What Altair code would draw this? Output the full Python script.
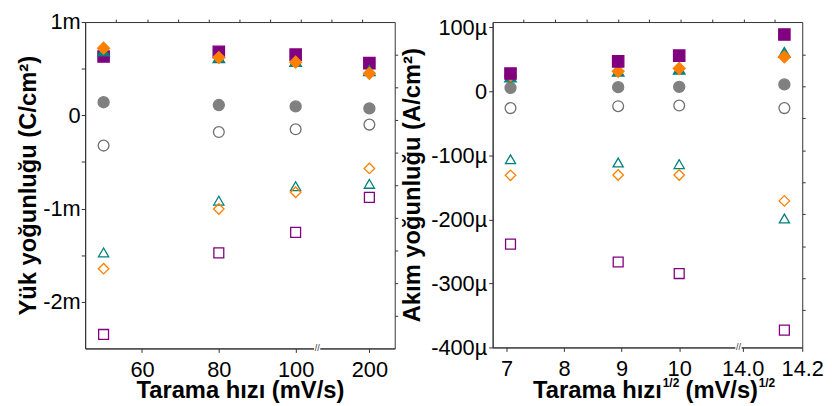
import altair as alt
import pandas as pd

FONT = "Liberation Sans"

# ---- series definitions ----
series = ["kare_acik", "ucgen_acik", "elmas_acik", "daire_acik",
          "daire_dolu", "kare_dolu", "ucgen_dolu", "elmas_dolu"]
shapes = ["square", "triangle-up", "diamond", "circle",
          "circle", "square", "triangle-up", "diamond"]
strokes = ["#800080", "#008080", "#FF8000", "#6E6E6E",
           "#808080", "#800080", "#008080", "#FF8000"]
fills = ["transparent", "transparent", "transparent", "transparent",
         "#808080", "#800080", "#008080", "#FF8000"]
sizes = [100, 144, 160, 100, 110, 100, 144, 160]

# ---- left panel: charge density (mC/cm2) vs scan rate (mV/s) ----
left_x = [50, 80, 100, 200]
left_kare_dolu = [0.63, 0.68, 0.65, 0.56]
left_ucgen_dolu = [0.69, 0.62, 0.58, 0.48]
left_elmas_dolu = [0.72, 0.62, 0.57, 0.45]
left_daire_dolu = [0.14, 0.11, 0.095, 0.074]
left_daire_acik = [-0.325, -0.18, -0.15, -0.10]
left_ucgen_acik = [-1.47, -0.915, -0.76, -0.735]
left_elmas_acik = [-1.645, -1.005, -0.825, -0.57]
left_kare_acik = [-2.35, -1.475, -1.255, -0.88]
left_ticks_x = [60, 80, 100, 200]

# ---- right panel: current density (uA/cm2) vs sqrt(scan rate) ----
right_x = [7.07, 8.94, 10.0, 14.14]
right_kare_dolu = [28, 47, 56, 89]
right_ucgen_dolu = [23, 32, 35, 61]
right_elmas_dolu = [25, 31.5, 36, 54]
right_daire_dolu = [5.7, 6.7, 7.2, 11]
right_daire_acik = [-26, -23, -22, -26]
right_ucgen_acik = [-106, -111, -113.5, -198.5]
right_elmas_acik = [-131, -130.5, -130.5, -171]
right_kare_acik = [-238.5, -266.5, -284.5, -373]
right_ticks_x = [7, 8, 9, 10, 14.0, 14.2]

left_vals = {"kare_dolu": left_kare_dolu, "ucgen_dolu": left_ucgen_dolu,
             "elmas_dolu": left_elmas_dolu, "daire_dolu": left_daire_dolu,
             "daire_acik": left_daire_acik, "ucgen_acik": left_ucgen_acik,
             "elmas_acik": left_elmas_acik, "kare_acik": left_kare_acik}
right_vals = {"kare_dolu": right_kare_dolu, "ucgen_dolu": right_ucgen_dolu,
              "elmas_dolu": right_elmas_dolu, "daire_dolu": right_daire_dolu,
              "daire_acik": right_daire_acik, "ucgen_acik": right_ucgen_acik,
              "elmas_acik": right_elmas_acik, "kare_acik": right_kare_acik}

left_order = ["kare_acik", "ucgen_acik", "elmas_acik", "daire_acik",
              "daire_dolu", "kare_dolu", "ucgen_dolu", "elmas_dolu"]
right_order = ["kare_acik", "ucgen_acik", "elmas_acik", "daire_acik",
               "daire_dolu", "ucgen_dolu", "elmas_dolu", "kare_dolu"]


def build(xs, vals, order):
    rows = []
    for s in order:
        for xv, yv in zip(xs, vals[s]):
            rows.append({"series": s, "x": xv, "y": yv})
    return pd.DataFrame(rows)


def enc_style():
    return dict(
        shape=alt.Shape("series:N", scale=alt.Scale(domain=series, range=shapes), legend=None),
        stroke=alt.Stroke("series:N", scale=alt.Scale(domain=series, range=strokes), legend=None),
        fill=alt.Fill("series:N", scale=alt.Scale(domain=series, range=fills), legend=None),
        size=alt.Size("series:N", scale=alt.Scale(domain=series, range=sizes), legend=None),
    )


W = 313
HL = 330
HR = 329
TFS = 24

# ---------- LEFT ----------
l_expr = "datum.x <= 100 ? datum.x : 119.2 + (datum.x - 200) * 0.05"
l_dom = [45.2, 125.8]
l_tick_pos = [60, 80, 100, 119.2]
base_l = alt.Chart(build(left_x, left_vals, left_order)).transform_calculate(xp=l_expr)
pts_l = base_l.mark_point(opacity=1, strokeWidth=1.3).encode(
    x=alt.X("xp:Q", scale=alt.Scale(domain=l_dom, nice=False, zero=False),
            axis=alt.Axis(values=l_tick_pos,
                          labelExpr="datum.value > 110 ? '200' : datum.label",
                          title="Tarama hızı (mV/s)", tickSize=4, labelPadding=7,
                          titlePadding=-1, labelFlush=False, labelOverlap=False)),
    y=alt.Y("y:Q", scale=alt.Scale(domain=[-2.5, 1.0], nice=False, zero=False),
            axis=alt.Axis(values=[-2, -1.5, -1, -0.5, 0, 0.5, 1],
                          labelExpr="datum.value % 1 != 0 ? '' : (datum.value == 0 ? '0' : datum.value + 'm')",
                          title="Yük yoğunluğu (C/cm²)", tickSize=4, labelPadding=1,
                          titlePadding=2, labelOverlap=False)),
    **enc_style()
)
mirror_l = base_l.mark_point(opacity=0).encode(
    x=alt.X("xp:Q", axis=alt.Axis(orient="top", values=[53.3 + 8 * k for k in range(9)],
                                  labels=False, title=None, tickSize=3, domain=False)),
    y=alt.Y("y:Q", axis=alt.Axis(orient="right",
                                 values=[0.65, 0.30, -0.05, -0.40, -0.75, -1.10, -1.45, -1.80, -2.15],
                                 labels=False, title=None, tickSize=3, domain=False)),
)
brk_l_df = pd.DataFrame({"bx": [105.6], "t": ["//"]})
gap_l = alt.Chart(brk_l_df).mark_square(color="white", size=40, opacity=1).encode(
    x=alt.X("bx:Q", axis=None), y=alt.value(HL))
sl_l = alt.Chart(brk_l_df).mark_text(font=FONT, fontSize=9, color="#333", baseline="middle").encode(
    x=alt.X("bx:Q", axis=None), y=alt.value(HL), text="t:N")
left = alt.layer(pts_l, mirror_l, gap_l, sl_l).resolve_axis(x="independent", y="independent").properties(
    width=W, height=HL)

# ---------- RIGHT ----------
r_expr = "datum.x <= 10 ? datum.x : 11.103 + (datum.x - 14) * 5.17"
r_dom = [6.76, 12.137]
r_tick_pos = [7, 8, 9, 10, 11.103, 12.137]
base_r = alt.Chart(build(right_x, right_vals, right_order)).transform_calculate(xp=r_expr)
pts_r = base_r.mark_point(opacity=1, strokeWidth=1.3).encode(
    x=alt.X("xp:Q", scale=alt.Scale(domain=r_dom, nice=False, zero=False),
            axis=alt.Axis(values=r_tick_pos,
                          labelExpr="datum.value > 12 ? '14.2' : (datum.value > 11 ? '14.0' : datum.label)",
                          title=None, tickSize=4, labelPadding=7,
                          labelFlush=False, labelOverlap=False)),
    y=alt.Y("y:Q", scale=alt.Scale(domain=[-400, 108.5], nice=False, zero=False),
            axis=alt.Axis(values=[-400, -300, -200, -100, 0, 100],
                          labelExpr="datum.value == 0 ? '0' : datum.value + 'µ'",
                          title="Akım yoğunluğu (A/cm²)", tickSize=4, labelPadding=2,
                          titlePadding=6, labelOverlap=False)),
    **enc_style()
)
mirror_r = base_r.mark_point(opacity=0).encode(
    x=alt.X("xp:Q", axis=alt.Axis(orient="top", values=[7.3 + 0.545 * k for k in range(9)],
                                  labels=False, title=None, tickSize=3, domain=False)),
    y=alt.Y("y:Q", axis=alt.Axis(orient="right",
                                 values=[58, 8, -42, -92, -142, -192, -242, -292, -342],
                                 labels=False, title=None, tickSize=3, domain=False)),
)
brk_r_df = pd.DataFrame({"bx": [11.03], "t": ["//"]})
gap_r = alt.Chart(brk_r_df).mark_square(color="white", size=40, opacity=1).encode(
    x=alt.X("bx:Q", axis=None), y=alt.value(HR))
sl_r = alt.Chart(brk_r_df).mark_text(font=FONT, fontSize=9, color="#333", baseline="middle").encode(
    x=alt.X("bx:Q", axis=None), y=alt.value(HR), text="t:N")

# x title with superscripts, built from text pieces
title_main = ["Tarama hızı", "(mV/s)"]
title_sup = ["1/2", "1/2"]
t1 = alt.Chart(pd.DataFrame({"t": [title_main[0]]})).mark_text(
    font=FONT, fontSize=TFS, fontWeight="bold", align="right", baseline="alphabetic", color="black"
).encode(x=alt.value(171), y=alt.value(380), text="t:N")
t2 = alt.Chart(pd.DataFrame({"t": [title_sup[0]]})).mark_text(
    font=FONT, fontSize=12, fontWeight="bold", align="left", baseline="alphabetic", color="black"
).encode(x=alt.value(172), y=alt.value(369), text="t:N")
t3 = alt.Chart(pd.DataFrame({"t": [title_main[1]]})).mark_text(
    font=FONT, fontSize=TFS, fontWeight="bold", align="left", baseline="alphabetic", color="black"
).encode(x=alt.value(195), y=alt.value(380), text="t:N")
t4 = alt.Chart(pd.DataFrame({"t": [title_sup[1]]})).mark_text(
    font=FONT, fontSize=12, fontWeight="bold", align="left", baseline="alphabetic", color="black"
).encode(x=alt.value(269), y=alt.value(369), text="t:N")

right = alt.layer(pts_r, mirror_r, gap_r, sl_r, t1, t2, t3, t4).resolve_axis(
    x="independent", y="independent").properties(width=W, height=HR)

chart = alt.hconcat(left, right, spacing=99, bounds="flush").properties(
    padding={"left": 8, "top": 0, "right": 0, "bottom": 0}
).configure_view(
    stroke="#333", strokeWidth=1
).configure_axis(
    grid=False, labelFont=FONT, titleFont=FONT, labelFontSize=22, titleFontSize=TFS,
    titleFontWeight="bold", labelColor="black", titleColor="black",
    tickColor="#333", domainColor="#333", domainWidth=1, tickWidth=1
)

chart.save("out.html", embed_options={"renderer": "svg", "actions": False})
